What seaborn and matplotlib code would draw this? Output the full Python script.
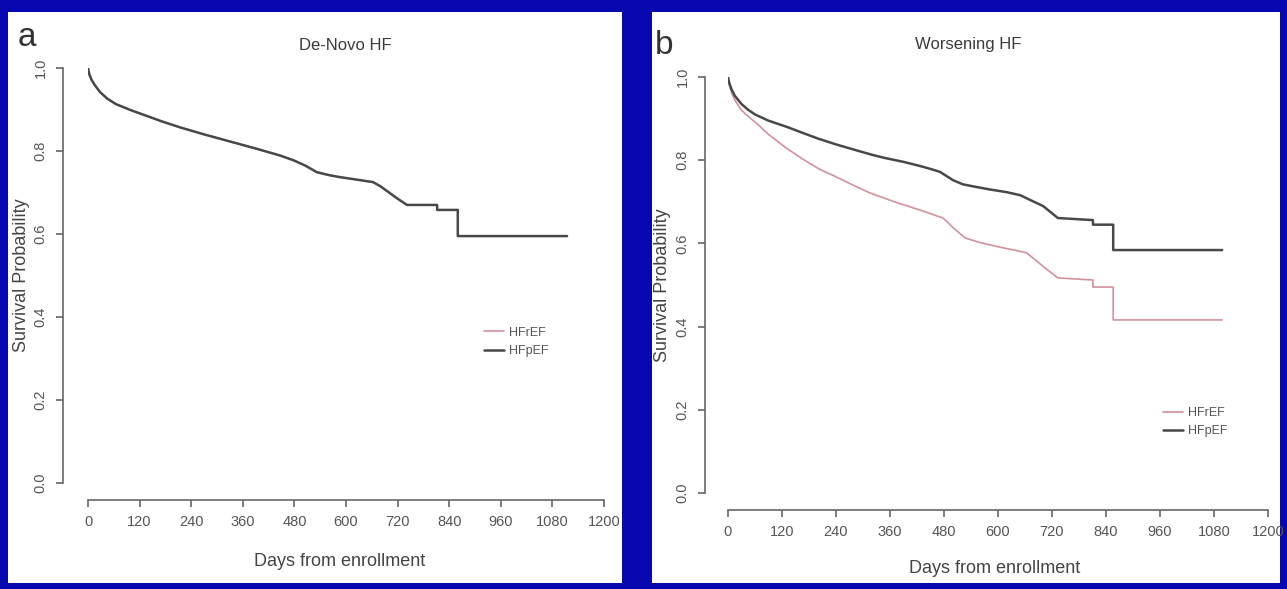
import pandas as pd
import seaborn as sns
import matplotlib.pyplot as plt
from matplotlib.patches import Rectangle

# De-Novo HF (both groups practically overlap)
days_a_ref = [0, 3, 8, 15, 28, 45, 65, 98, 130, 170, 214, 270, 330, 390, 447, 477, 505, 532, 560, 586, 625, 663, 680, 700, 720, 742, 812, 812, 860, 860, 1114]
surv_a_ref = [1.0, 0.985, 0.972, 0.96, 0.942, 0.926, 0.913, 0.899, 0.887, 0.872, 0.857, 0.840, 0.823, 0.806, 0.789, 0.778, 0.765, 0.749, 0.742, 0.737, 0.731, 0.725, 0.715, 0.70, 0.685, 0.67, 0.67, 0.658, 0.658, 0.595, 0.595]
days_a_pef = [0, 3, 8, 15, 28, 45, 65, 98, 130, 170, 214, 270, 330, 390, 447, 477, 505, 532, 560, 586, 625, 663, 680, 700, 720, 742, 812, 812, 860, 860, 1114]
surv_a_pef = [1.0, 0.985, 0.972, 0.96, 0.942, 0.926, 0.913, 0.899, 0.887, 0.872, 0.857, 0.840, 0.823, 0.806, 0.789, 0.778, 0.765, 0.749, 0.742, 0.737, 0.731, 0.725, 0.715, 0.70, 0.685, 0.67, 0.67, 0.658, 0.658, 0.595, 0.595]

# Worsening HF
days_b_ref = [0, 3, 8, 15, 30, 45, 60, 90, 131, 170, 204, 240, 280, 316, 370, 427, 478, 500, 527, 560, 604, 640, 664, 700, 733, 811, 811, 856, 856, 1098]
surv_b_ref = [1.0, 0.98, 0.962, 0.945, 0.92, 0.905, 0.892, 0.862, 0.828, 0.80, 0.778, 0.760, 0.739, 0.721, 0.70, 0.68, 0.661, 0.638, 0.613, 0.602, 0.591, 0.583, 0.577, 0.545, 0.517, 0.512, 0.495, 0.495, 0.416, 0.416]
days_b_pef = [0, 3, 8, 15, 30, 45, 60, 90, 131, 170, 200, 240, 278, 320, 350, 390, 427, 450, 471, 500, 522, 550, 580, 620, 649, 680, 700, 733, 811, 811, 856, 856, 1098]
surv_b_pef = [1.0, 0.985, 0.97, 0.955, 0.935, 0.921, 0.910, 0.895, 0.88, 0.864, 0.852, 0.838, 0.826, 0.813, 0.805, 0.796, 0.786, 0.779, 0.772, 0.752, 0.742, 0.736, 0.730, 0.723, 0.716, 0.70, 0.69, 0.661, 0.656, 0.645, 0.645, 0.584, 0.584]

xticks = list(range(0, 1201, 120))
yticks = [0.0, 0.2, 0.4, 0.6, 0.8, 1.0]

sns.set_style("white")
plt.rcParams["font.family"] = ["Liberation Sans", "DejaVu Sans"]

W, H = 1287, 589
fig = plt.figure(figsize=(W / 100, H / 100), dpi=100)
fig.patch.set_facecolor("#0808b0")

# white panels behind the axes
fig.patches.append(Rectangle((8 / W, 1 - 583 / H), 614 / W, 571 / H, transform=fig.transFigure,
                             facecolor="white", edgecolor="none", zorder=-10))
fig.patches.append(Rectangle((652 / W, 1 - 583 / H), 628 / W, 571 / H, transform=fig.transFigure,
                             facecolor="white", edgecolor="none", zorder=-10))

ax_a = fig.add_axes([88 / W, 1 - 483 / H, 516 / W, 415 / H])
ax_b = fig.add_axes([728 / W, 1 - 493 / H, 540 / W, 416 / H])

pink = "#d4909c"
dark = "#484848"
txt = "#3a3a3a"

panels = [
    (ax_a, days_a_ref, surv_a_ref, days_a_pef, surv_a_pef, "De-Novo HF", 25, 17,
     (0.498, 1.055), (-0.112, 0.5), (0.488, -0.168), (0.83, 0.34)),
    (ax_b, days_b_ref, surv_b_ref, days_b_pef, surv_b_pef, "Worsening HF", 23, 17,
     (0.444, 1.077), (-0.106, 0.5), (0.494, -0.16), (0.865, 0.17)),
]

for ax, dr, sr, dp, sp, title, lpad, bpad, tpos, ylpos, xlpos, legpos in panels:
    ax.patch.set_alpha(0)
    sns.lineplot(x=dr, y=sr, ax=ax, color=pink, linewidth=1.2, label="HFrEF",
                 sort=False, estimator=None)
    sns.lineplot(x=dp, y=sp, ax=ax, color=dark, linewidth=1.8, label="HFpEF",
                 sort=False, estimator=None)
    ax.set_xlim(0, 1200)
    ax.set_ylim(0, 1)
    ax.set_xticks(xticks)
    ax.set_yticks(yticks)
    ax.set_xticklabels([str(t) for t in xticks])
    ax.set_yticklabels([f"{t:.1f}" for t in yticks])
    for s in ["top", "right"]:
        ax.spines[s].set_visible(False)
    ax.spines["left"].set_position(("outward", lpad * 0.72))
    ax.spines["bottom"].set_position(("outward", bpad * 0.72))
    ax.spines["left"].set_bounds(0, 1)
    ax.spines["bottom"].set_bounds(0, 1200)
    for s in ["left", "bottom"]:
        ax.spines[s].set_color("#666666")
        ax.spines[s].set_linewidth(1.2)
    ax.tick_params(axis="both", bottom=True, left=True, length=5, width=1.2, color="#666666",
                   direction="out", pad=6, labelsize=10.5, labelcolor="#555555")
    ax.tick_params(axis="y", labelrotation=90)
    for lab in ax.get_yticklabels():
        lab.set_va("center")
    ax.text(tpos[0], tpos[1], title, transform=ax.transAxes, ha="center", va="center",
            fontsize=12, color=txt)
    ax.set_ylabel("Survival Probability", fontsize=13, color="#444444")
    ax.yaxis.set_label_coords(*ylpos)
    ax.set_xlabel("Days from enrollment", fontsize=13, color="#444444")
    ax.xaxis.set_label_coords(*xlpos)
    leg = ax.legend(loc="center", bbox_to_anchor=legpos, frameon=False, fontsize=9,
                    handlelength=1.6, handletextpad=0.4, labelspacing=0.5)
    for t in leg.get_texts():
        t.set_color("#555555")

fig.text(18 / W, 1 - 38 / H, "a", fontsize=24, color="#333333", ha="left", va="center")
fig.text(655 / W, 1 - 45 / H, "b", fontsize=24, color="#333333", ha="left", va="center")

fig.savefig("out.png", dpi=100, facecolor=fig.get_facecolor())
